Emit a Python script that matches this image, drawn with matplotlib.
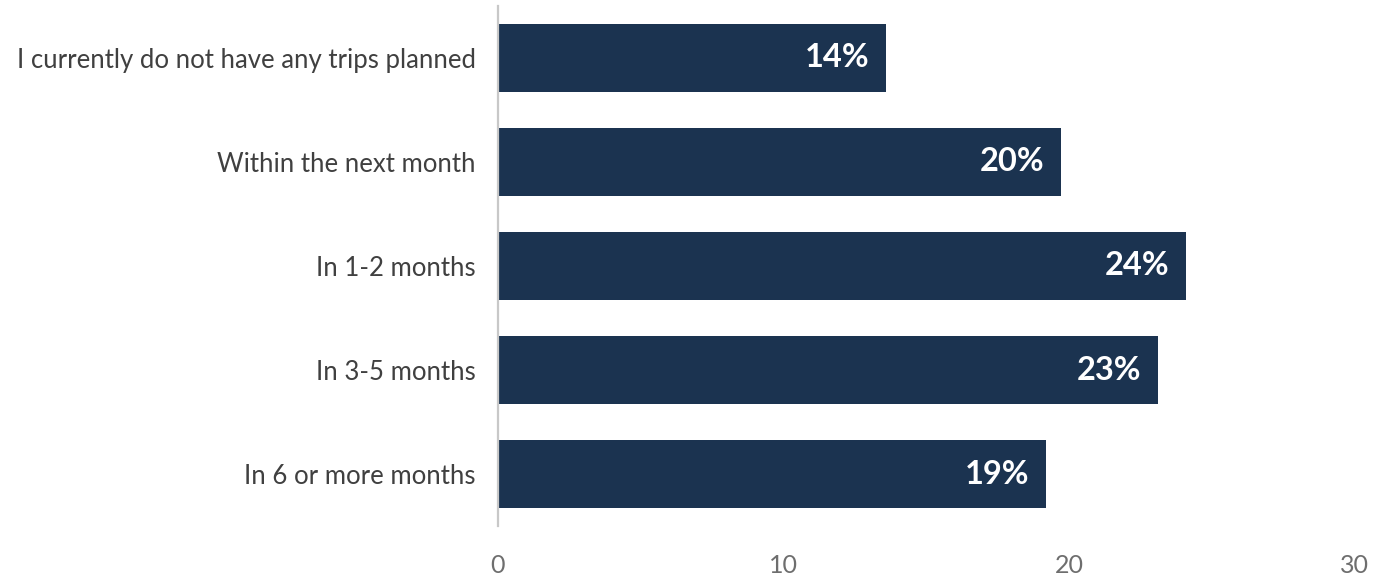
import matplotlib
matplotlib.use("Agg")
import matplotlib.pyplot as plt

# Survey answers, top to bottom
categories = [
    "I currently do not have any trips planned",
    "Within the next month",
    "In 1-2 months",
    "In 3-5 months",
    "In 6 or more months",
]
shares = [13.6, 19.7, 24.1, 23.1, 19.2]
x_ticks = [0, 10, 20, 30]

BAR_COLOR = "#1b3350"
plt.rcParams["font.family"] = ["Lato", "DejaVu Sans"]

fig = plt.figure(figsize=(13.76, 5.75), dpi=100)
ax = fig.add_axes([0.3619, 0.0852, 0.6228, 0.9044])

pos = list(range(len(categories)))
bars = ax.barh(pos, shares, height=0.66, color=BAR_COLOR)
ax.set_ylim(len(categories) - 0.5, -0.5)
ax.set_xlim(0, 30)

for bar, v in zip(bars, shares):
    ax.annotate(f"{v:.0f}%", (bar.get_width(), bar.get_y() + bar.get_height() / 2),
                xytext=(-12, 0), textcoords="offset points",
                ha="right", va="center", color="white",
                fontsize=23.5, fontweight="bold")

ax.set_yticks(pos)
ax.set_yticklabels(categories, fontsize=18.5, color="#404040")
ax.set_xticks(x_ticks)
ax.set_xticklabels([str(t) for t in x_ticks], fontsize=18, color="#6e6e6e")
ax.tick_params(axis="y", length=0, pad=16)
ax.tick_params(axis="x", length=0, pad=20)

for side in ["top", "right", "bottom"]:
    ax.spines[side].set_visible(False)
ax.spines["left"].set_color("#c8c8c8")
ax.spines["left"].set_linewidth(1.6)

fig.savefig("out.png", dpi=100)
